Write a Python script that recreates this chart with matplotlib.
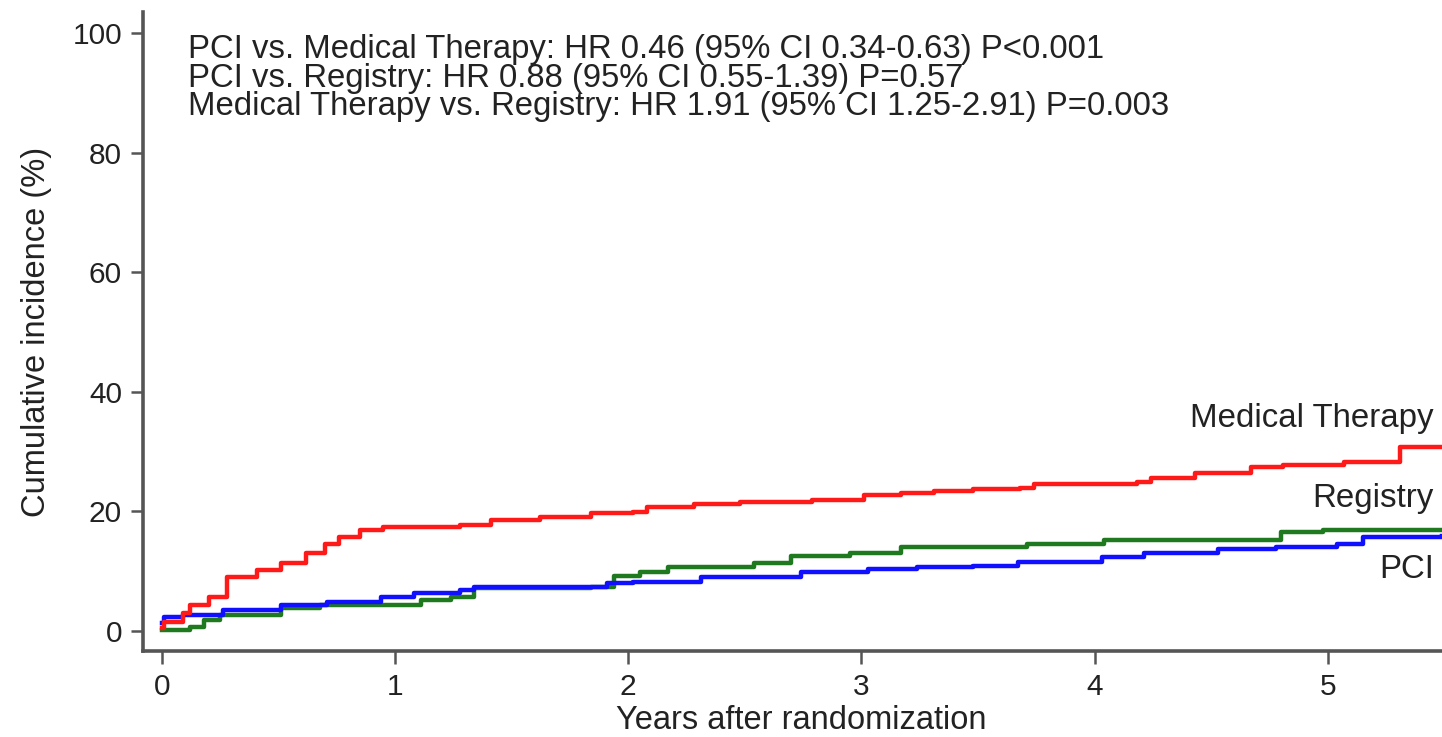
import numpy as np
import matplotlib
matplotlib.use("Agg")
import matplotlib.pyplot as plt

plt.rcParams['font.family'] = ['Liberation Sans', 'DejaVu Sans']

# ================================
# DATA
# ================================
med_t = [0.0, 0.01, 0.09, 0.12, 0.20, 0.28, 0.33, 0.41, 0.51, 0.55, 0.62, 0.70,
         0.76, 0.85, 0.95, 1.28, 1.41, 1.62, 1.84, 2.02, 2.08, 2.28, 2.48, 2.79,
         3.01, 3.17, 3.31, 3.48, 3.68, 3.74, 4.04, 4.18, 4.24, 4.43, 4.67, 4.81,
         5.07, 5.31, 5.49]
med_y = [0.5, 1.5, 3.0, 4.3, 5.7, 9.0, 9.0, 10.2, 11.4, 11.4, 13.0, 14.5,
         15.7, 16.9, 17.4, 17.7, 18.6, 19.1, 19.7, 19.9, 20.7, 21.2, 21.6, 21.9,
         22.7, 23.1, 23.4, 23.7, 23.9, 24.6, 24.6, 24.9, 25.6, 26.4, 27.4, 27.8,
         28.3, 30.8, 30.8]

reg_t = [0.0, 0.12, 0.18, 0.25, 0.46, 0.51, 0.68, 1.06, 1.11, 1.24, 1.34, 1.84,
         1.94, 2.05, 2.17, 2.54, 2.70, 2.95, 3.17, 3.71, 4.04, 4.80, 4.98, 5.49]
reg_y = [0.2, 0.7, 1.8, 2.7, 2.7, 3.8, 4.3, 4.3, 5.2, 5.7, 7.2, 7.4,
         9.2, 9.8, 10.7, 11.4, 12.5, 13.0, 14.0, 14.5, 15.2, 16.6, 16.9, 16.9]

pci_t = [0.0, 0.01, 0.09, 0.26, 0.51, 0.71, 0.94, 1.08, 1.28, 1.34, 1.91, 2.02,
         2.31, 2.74, 3.03, 3.24, 3.48, 3.67, 4.00, 4.03, 4.21, 4.53, 4.78, 5.04,
         5.15, 5.49]
pci_y = [1.3, 2.3, 2.7, 3.5, 4.3, 4.9, 5.7, 6.4, 6.8, 7.4, 8.0, 8.2,
         9.0, 9.9, 10.4, 10.7, 10.9, 11.5, 11.5, 12.4, 13.0, 13.7, 14.0, 14.5,
         15.7, 15.9]

group_names = ["Medical Therapy", "Registry", "PCI"]
group_label_y = [34.1, 20.7, 8.9]

x_ticks = [0, 1, 2, 3, 4, 5]
y_ticks = [0, 20, 40, 60, 80, 100]

stats_lines = [
    "PCI vs. Medical Therapy: HR 0.46 (95% CI 0.34-0.63) P<0.001",
    "PCI vs. Registry: HR 0.88 (95% CI 0.55-1.39) P=0.57",
    "Medical Therapy vs. Registry: HR 1.91 (95% CI 1.25-2.91) P=0.003",
]

# ================================
# PLOT
# ================================
fig = plt.figure(figsize=(14.42, 7.37), dpi=100)
ax = fig.add_axes([0.099, 0.1167, 0.901, 0.867])

ax.step(reg_t, reg_y, where="post", color="#1f7a1f", linewidth=3.2)
ax.step(pci_t, pci_y, where="post", color="#1010ff", linewidth=3.2)
ax.step(med_t, med_y, where="post", color="#ff1a1a", linewidth=3.2)

ax.set_xlim(-0.082, 5.49)
ax.set_ylim(-3.34, 103.5)
ax.set_xticks(x_ticks)
ax.set_yticks(y_ticks)

spine_col = "#555555"
for s in ["top", "right"]:
    ax.spines[s].set_visible(False)
for s in ["left", "bottom"]:
    ax.spines[s].set_color(spine_col)
    ax.spines[s].set_linewidth(2.6)

text_col = "#222222"
ax.tick_params(axis="both", colors=spine_col, length=9, width=1.8,
               labelsize=21.5, labelcolor=text_col)
ax.tick_params(axis="x", pad=7)
ax.tick_params(axis="y", pad=6)

ax.set_xlabel("Years after randomization", fontsize=23.5, color=text_col)
ax.set_ylabel("Cumulative incidence (%)", fontsize=23.5, color=text_col)
ax.xaxis.set_label_coords(0.507, -0.0845)
ax.yaxis.set_label_coords(-0.070, 0.5)

# comparison stats
for i, line in enumerate(stats_lines):
    ax.text(0.11, 95.8 - i * 4.77, line, fontsize=23.7, color=text_col,
            ha="left", va="baseline")

# group labels at the right
for name, yy in zip(group_names, group_label_y):
    ax.text(5.455, yy, name, fontsize=23.8, color=text_col, ha="right", va="baseline")

plt.savefig("out.png", dpi=100)
plt.close()
